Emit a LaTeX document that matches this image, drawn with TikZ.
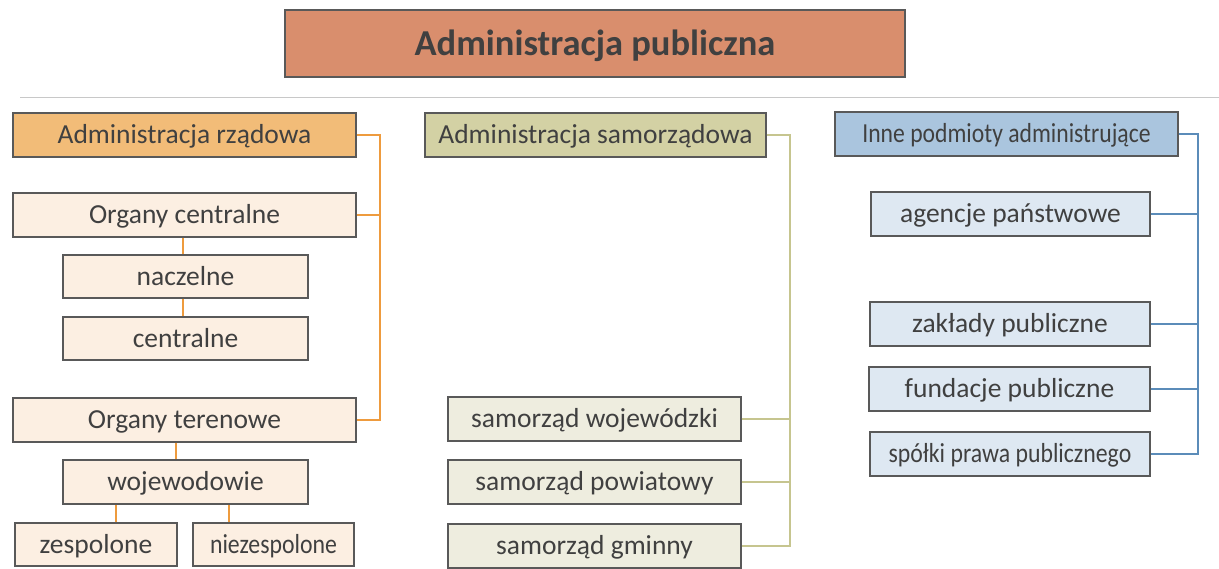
\documentclass[tikz,border=0pt]{standalone}
\usepackage{fontspec}
\setmainfont{Carlito}
\usetikzlibrary{calc}
\definecolor{titlefill}{HTML}{D98E6D}
\definecolor{rzadfill}{HTML}{F2BC78}
\definecolor{rzadlight}{HTML}{FCEFE2}
\definecolor{rzadline}{HTML}{EE9B3E}
\definecolor{samfill}{HTML}{D3D1A4}
\definecolor{samlight}{HTML}{EEEDDF}
\definecolor{samline}{HTML}{C6C58F}
\definecolor{innefill}{HTML}{AAC5DE}
\definecolor{innelight}{HTML}{DEE8F2}
\definecolor{inneline}{HTML}{5B8CB9}
\definecolor{boxborder}{HTML}{595959}
\definecolor{txt}{HTML}{404040}
\definecolor{sep}{HTML}{C8C8C8}
\tikzset{
  box/.style={draw=boxborder, line width=1.3pt, inner sep=0pt, text=txt,
    font=\fontsize{27.5}{30}\selectfont, anchor=center,
    text height=17.6pt, text depth=0pt},
  bigbox/.style={box, minimum width=343pt, minimum height=44pt},
  wire/.style={line width=1.6pt},
}
\newcommand{\cond}[2]{\scalebox{#1}[1]{#2}}
\begin{document}
\begin{tikzpicture}[x=1pt,y=-1pt]
\useasboundingbox (0,0) rectangle (1219,568);
% title
\node[box, fill=titlefill, minimum width=620pt, minimum height=67pt,
  font=\fontsize{36.5}{40}\selectfont\bfseries, text height=23.4pt] (title) at (595,43.5) {Administracja publiczna};
\coordinate (sepL) at (20,97);
\coordinate (sepR) at (1219,97);
\draw[sep, line width=1pt] (sepL) -- (sepR);

% Administracja rzadowa
\node[bigbox, fill=rzadfill] (rzad) at (184.5,135) {Administracja rządowa};
\node[bigbox, fill=rzadlight] (oc) at (184.5,215) {Organy centralne};
\node[box, fill=rzadlight, minimum width=245pt, minimum height=43pt] (nacz) at (185.5,276.5) {naczelne};
\node[box, fill=rzadlight, minimum width=245pt, minimum height=43pt] (centr) at (185.5,338.5) {centralne};
\node[bigbox, fill=rzadlight] (ot) at (184.5,420) {Organy terenowe};
\node[box, fill=rzadlight, minimum width=245pt, minimum height=44pt] (woj) at (185.5,482) {wojewodowie};
\node[box, fill=rzadlight, minimum width=162pt, minimum height=43pt] (zesp) at (96,544.5) {zespolone};
\node[box, fill=rzadlight, minimum width=161pt, minimum height=43pt] (niez) at (273.5,544.5) {\cond{0.865}{niezespolone}};

\coordinate (rbus) at (380,0);
\begin{scope}[rzadline, wire]
\draw (rzad.east) -| (rbus |- ot.east) -- (ot.east);
\draw (oc.east) -- (rbus |- oc.east);
\coordinate (oc1) at ($(oc.south)+(-1.5,0)$);
\draw (oc1) -- (oc1 |- nacz.north);
\draw (oc1 |- nacz.south) -- (oc1 |- centr.north);
\coordinate (ot1) at ($(ot.south)+(-8.5,0)$);
\draw (ot1) -- (ot1 |- woj.north);
\coordinate (z1) at ($(zesp.north)+(20,0)$);
\draw (z1) -- (z1 |- woj.south);
\coordinate (z2) at ($(niez.north)+(-44.5,0)$);
\draw (z2) -- (z2 |- woj.south);
\end{scope}

% Administracja samorzadowa
\node[box, fill=samfill, minimum width=341pt, minimum height=44pt] (sam) at (595.5,135) {Administracja samorządowa};
\node[box, fill=samlight, minimum width=293pt, minimum height=44pt] (sw) at (594.5,419) {samorząd wojewódzki};
\node[box, fill=samlight, minimum width=293pt, minimum height=44pt] (sp) at (594.5,482) {samorząd powiatowy};
\node[box, fill=samlight, minimum width=293pt, minimum height=44pt] (sg) at (594.5,546) {samorząd gminny};
\coordinate (sbus) at (790,0);
\begin{scope}[samline, wire]
\draw (sam.east) -| (sbus |- sg.east) -- (sg.east);
\draw (sw.east) -- (sbus |- sw.east);
\draw (sp.east) -- (sbus |- sp.east);
\end{scope}

% Inne podmioty
\node[bigbox, fill=innefill] (inne) at (1006.5,134) {\cond{0.86}{Inne podmioty administrujące}};
\node[box, fill=innelight, minimum width=279pt, minimum height=44pt] (ag) at (1010.5,214) {agencje państwowe};
\node[box, fill=innelight, minimum width=280pt, minimum height=44pt] (zak) at (1010,324) {zakłady publiczne};
\node[box, fill=innelight, minimum width=281pt, minimum height=44pt] (fund) at (1009.5,389) {fundacje publiczne};
\node[box, fill=innelight, minimum width=280pt, minimum height=44pt] (spol) at (1010,454) {\cond{0.865}{spółki prawa publicznego}};
\coordinate (ibus) at (1198,0);
\begin{scope}[inneline, wire]
\draw (inne.east) -| (ibus |- spol.east) -- (spol.east);
\draw (ag.east) -- (ibus |- ag.east);
\draw (zak.east) -- (ibus |- zak.east);
\draw (fund.east) -- (ibus |- fund.east);
\end{scope}
\end{tikzpicture}
\end{document}
